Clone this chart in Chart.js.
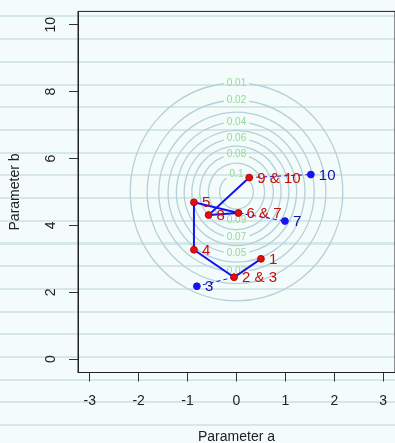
<!DOCTYPE html>
<html>
<head>
<meta charset="utf-8">
<script src="https://cdn.jsdelivr.net/npm/chart.js@4"></script>
<style>
  html, body {
    margin: 0;
    padding: 0;
    overflow: hidden;
    width: 395px;
    height: 443px;
    background-color: #f4fbfb;
    background-image: repeating-linear-gradient(to bottom,
      transparent 0px, transparent 15.5px,
      #d6e7e7 15.5px, #d6e7e7 17.5px,
      transparent 17.5px, transparent 22.7px);
    font-family: "Liberation Sans", Arial, sans-serif;
  }
  #wrap { position: absolute; left: 0; top: 0; width: 400px; height: 443px; }
</style>
</head>
<body>
<div id="wrap"><canvas id="chart" width="400" height="443"></canvas></div>
<script>
// accepted states of the chain (parameter a, parameter b)
const chainLabels = ['1', '2 & 3', '4', '5', '6 & 7', '8', '9 & 10'];
const chainA = [0.5, -0.05, -0.87, -0.87, 0.04, -0.57, 0.26];
const chainB = [3.0, 2.45, 3.27, 4.69, 4.37, 4.31, 5.43];

// rejected proposals and the chain state they were proposed from
const rejectLabels = ['3', '7', '10'];
const rejectA = [-0.81, 0.99, 1.52];
const rejectB = [2.18, 4.13, 5.52];
const rejectFrom = [1, 4, 6];

// target density contours
const densMeanA = 0, densMeanB = 5;
const densSdA = 1, densSdB = 1.5;
const contourLevels = [0.01, 0.02, 0.03, 0.04, 0.05, 0.06, 0.07, 0.08, 0.09, 0.1];
const contourLabelSide = ['top', 'top', 'bottom', 'top', 'bottom', 'top', 'bottom', 'top', 'bottom', 'top'];

const xTicks = [-3, -2, -1, 0, 1, 2, 3];
const yTicks = [0, 2, 4, 6, 8, 10];

const RED = '#e01010';
const BLUE = '#1414f0';

const contourPlugin = {
  id: 'contours',
  beforeDatasetsDraw(chart) {
    const { ctx, scales: { x, y } } = chart;
    const peak = 1 / (2 * Math.PI * densSdA * densSdB);
    const cx = x.getPixelForValue(densMeanA);
    const cy = y.getPixelForValue(densMeanB);
    ctx.save();
    ctx.font = '10px "Liberation Sans", Arial, sans-serif';
    ctx.textAlign = 'center';
    ctx.textBaseline = 'middle';
    contourLevels.forEach((lev, i) => {
      if (lev >= peak) return;
      const r = Math.sqrt(2 * Math.log(peak / lev));
      const rx = x.getPixelForValue(densMeanA + r * densSdA) - cx;
      const ry = cy - y.getPixelForValue(densMeanB + r * densSdB);
      const label = String(lev);
      const half = ctx.measureText(label).width / 2 + 3;
      const gap = Math.asin(Math.min(1, half / rx));
      const at = contourLabelSide[i] === 'top' ? -Math.PI / 2 : Math.PI / 2;
      ctx.strokeStyle = '#b4d0da';
      ctx.lineWidth = 1.3;
      ctx.beginPath();
      ctx.ellipse(cx, cy, rx, ry, 0, at + gap, at - gap + 2 * Math.PI);
      ctx.stroke();
      ctx.fillStyle = '#96d896';
      ctx.fillText(label, cx, at < 0 ? cy - ry : cy + ry);
    });
    ctx.restore();
  }
};

const textPlugin = {
  id: 'texts',
  afterDatasetsDraw(chart) {
    const { ctx } = chart;
    ctx.save();
    ctx.font = '15px "Liberation Sans", Arial, sans-serif';
    ctx.textAlign = 'left';
    ctx.textBaseline = 'middle';
    const chainMeta = chart.getDatasetMeta(0);
    chainMeta.data.forEach((pt, i) => {
      ctx.fillStyle = '#c80c0c';
      ctx.fillText(chainLabels[i], pt.x + 8, pt.y + 1);
    });
    const rejMeta = chart.getDatasetMeta(1);
    rejMeta.data.forEach((pt, i) => {
      ctx.fillStyle = '#1010a8';
      ctx.fillText(rejectLabels[i], pt.x + 8, pt.y + 1);
    });
    ctx.restore();
  },
  afterDraw(chart) {
    const { ctx, chartArea: a, scales: { y } } = chart;
    ctx.save();
    ctx.strokeStyle = '#222';
    ctx.lineWidth = 1;
    ctx.strokeRect(a.left, a.top, a.right - a.left, a.bottom - a.top);
    // rotated y tick labels, R style
    ctx.fillStyle = '#222';
    ctx.font = '14px "Liberation Sans", Arial, sans-serif';
    ctx.textAlign = 'center';
    ctx.textBaseline = 'middle';
    yTicks.forEach(v => {
      ctx.save();
      ctx.translate(51, y.getPixelForValue(v));
      ctx.rotate(-Math.PI / 2);
      ctx.fillText(String(v), 0, 0);
      ctx.restore();
    });
    ctx.restore();
  }
};

const datasets = [
  {
    label: 'chain',
    type: 'line',
    data: chainA.map((a, i) => ({ x: a, y: chainB[i] })),
    borderColor: BLUE,
    borderWidth: 2,
    backgroundColor: RED,
    pointBackgroundColor: RED,
    pointBorderColor: '#c00000',
    pointBorderWidth: 1,
    pointRadius: 3.4,
    tension: 0,
    fill: false,
  },
  {
    label: 'rejected',
    type: 'scatter',
    data: rejectA.map((a, i) => ({ x: a, y: rejectB[i] })),
    backgroundColor: BLUE,
    borderColor: BLUE,
    pointRadius: 3.4,
  },
  ...rejectFrom.map((from, i) => ({
    label: 'proposal ' + rejectLabels[i],
    type: 'line',
    data: [{ x: chainA[from], y: chainB[from] }, { x: rejectA[i], y: rejectB[i] }],
    borderColor: BLUE,
    borderWidth: 1,
    borderDash: [4, 3],
    pointRadius: 0,
    fill: false,
    order: 5,
  })),
];

new Chart(document.getElementById('chart'), {
  type: 'scatter',
  data: { datasets },
  options: {
    responsive: false,
    animation: false,
    events: [],
    layout: { padding: { top: 5.5, right: 2, left: 0, bottom: 0 } },
    plugins: { legend: { display: false }, tooltip: { enabled: false } },
    scales: {
      x: {
        type: 'linear',
        min: -3.24,
        max: 3.24,
        afterBuildTicks: s => { s.ticks = xTicks.map(v => ({ value: v })); },
        afterFit: s => { s.height = 70.5; },
        grid: { drawOnChartArea: false, drawTicks: true, tickLength: 9, tickColor: '#333' },
        border: { display: true, color: '#222' },
        ticks: {
          color: '#222',
          padding: 11,
          maxRotation: 0,
          font: { family: '"Liberation Sans", Arial, sans-serif', size: 14 },
        },
        title: {
          display: true,
          text: 'Parameter a',
          color: '#222',
          padding: { top: 0, bottom: -1 },
          font: { family: '"Liberation Sans", Arial, sans-serif', size: 14, lineHeight: 1 },
        },
      },
      y: {
        type: 'linear',
        min: -0.4,
        max: 10.4,
        afterBuildTicks: s => { s.ticks = yTicks.map(v => ({ value: v })); },
        afterFit: s => { s.width = 78; },
        grid: { drawOnChartArea: false, drawTicks: true, tickLength: 9, tickColor: '#333' },
        border: { display: true, color: '#222' },
        ticks: { color: 'rgba(0,0,0,0)', font: { size: 14 } },
        title: {
          display: true,
          text: 'Parameter b',
          color: '#222',
          padding: { top: 8, bottom: 0 },
          font: { family: '"Liberation Sans", Arial, sans-serif', size: 14, lineHeight: 1 },
        },
      },
    },
  },
  plugins: [contourPlugin, textPlugin],
});
</script>
</body>
</html>
